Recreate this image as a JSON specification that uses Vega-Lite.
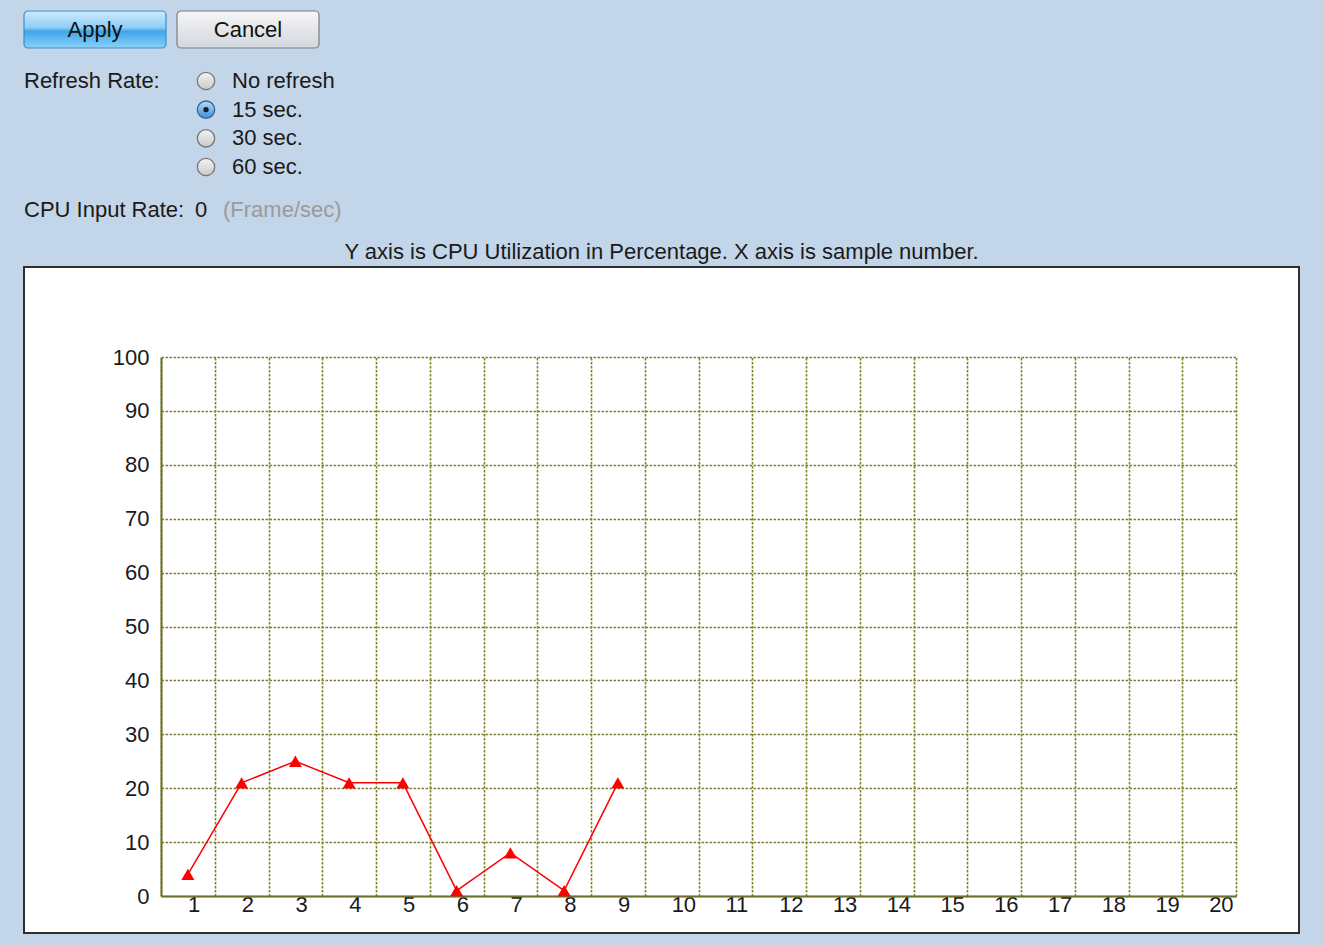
{
  "$schema": "https://vega.github.io/schema/vega-lite/v6.json",
  "background": "#c3d5e8",
  "padding": {"left": 23, "top": 10, "right": 26, "bottom": 14},
  "bounds": "flush",
  "spacing": 0,
  "config": {
    "view": {"stroke": null},
    "font": "Liberation Sans",
    "text": {"font": "Liberation Sans"}
  },
  "vconcat": [
    {
      "width": 295,
      "height": 37,
      "data": {"values": [{"button": "Apply"}, {"button": "Cancel"}]},
      "encoding": {
        "x": {"field": "button", "type": "nominal", "scale": {"domain": ["Apply", "Cancel"], "paddingInner": 0.0719, "paddingOuter": 0}, "axis": null}
      },
      "layer": [
        {
          "transform": [{"filter": "datum.button === 'Apply'"}],
          "mark": {"type": "rect", "cornerRadius": 4, "stroke": "#3a8ed0", "strokeWidth": 1.2,
            "fill": {"gradient": "linear", "x1": 0, "y1": 0, "x2": 0, "y2": 1,
              "stops": [{"offset": 0, "color": "#cfeafc"}, {"offset": 0.45, "color": "#8ecdf6"}, {"offset": 0.55, "color": "#3fa6ea"}, {"offset": 1, "color": "#8ad0f8"}]}}
        },
        {
          "transform": [{"filter": "datum.button === 'Cancel'"}],
          "mark": {"type": "rect", "cornerRadius": 4, "stroke": "#7e7e7e", "strokeWidth": 1.2,
            "fill": {"gradient": "linear", "x1": 0, "y1": 0, "x2": 0, "y2": 1,
              "stops": [{"offset": 0, "color": "#f7f7f7"}, {"offset": 0.5, "color": "#e4e6e9"}, {"offset": 1, "color": "#d3d8de"}]}}
        },
        {
          "mark": {"type": "text", "fontSize": 22, "color": "#111111", "baseline": "middle"},
          "encoding": {"text": {"field": "button"}}
        }
      ]
    },
    {
      "width": 1275,
      "height": 219,
      "data": {"values": [
        {"row": 1, "col": 0, "text": "Refresh Rate:", "kind": "label"},
        {"row": 5, "col": 0, "text": "CPU Input Rate:", "kind": "label"},
        {"row": 1, "col": 1, "text": "No refresh", "kind": "option", "selected": false},
        {"row": 2, "col": 1, "text": "15 sec.", "kind": "option", "selected": true},
        {"row": 3, "col": 1, "text": "30 sec.", "kind": "option", "selected": false},
        {"row": 4, "col": 1, "text": "60 sec.", "kind": "option", "selected": false},
        {"row": 5, "col": 1, "text": "0", "kind": "value"},
        {"row": 5, "col": 1, "text": "(Frame/sec)", "kind": "unit"}
      ]},
      "encoding": {
        "x": {"field": "col", "type": "quantitative", "scale": {"domain": [0, 1], "range": [0, 182], "nice": false, "zero": false}, "axis": null},
        "y": {"field": "row", "type": "quantitative", "scale": {"domain": [1, 4, 5], "range": [33, 119, 162], "nice": false, "zero": false}, "axis": null}
      },
      "layer": [
        {
          "transform": [{"filter": "datum.kind === 'label'"}],
          "mark": {"type": "text", "align": "left", "baseline": "middle", "fontSize": 22, "color": "#1a1a1a"},
          "encoding": {"text": {"field": "text"}}
        },
        {
          "transform": [{"filter": "datum.kind === 'option' && !datum.selected"}],
          "mark": {"type": "point", "shape": "circle", "size": 300, "filled": true, "opacity": 1, "stroke": "#777777", "strokeWidth": 1.3, "strokeOpacity": 1,
            "fill": {"gradient": "linear", "x1": 0, "y1": 0, "x2": 0, "y2": 1,
              "stops": [{"offset": 0, "color": "#f4f4f4"}, {"offset": 1, "color": "#c9c9c9"}]}}
        },
        {
          "transform": [{"filter": "datum.kind === 'option' && datum.selected"}],
          "mark": {"type": "point", "shape": "circle", "size": 300, "filled": true, "opacity": 1, "stroke": "#2f629e", "strokeWidth": 1.3, "strokeOpacity": 1,
            "fill": {"gradient": "linear", "x1": 0, "y1": 0, "x2": 0, "y2": 1,
              "stops": [{"offset": 0, "color": "#b5dbf8"}, {"offset": 1, "color": "#3e8fdb"}]}}
        },
        {
          "transform": [{"filter": "datum.kind === 'option' && datum.selected"}],
          "mark": {"type": "point", "shape": "circle", "size": 28, "filled": true, "opacity": 1, "color": "#15202e"}
        },
        {
          "transform": [{"filter": "datum.kind === 'option'"}],
          "mark": {"type": "text", "align": "left", "baseline": "middle", "dx": 26, "fontSize": 22, "color": "#1a1a1a"},
          "encoding": {"text": {"field": "text"}}
        },
        {
          "transform": [{"filter": "datum.kind === 'value'"}],
          "mark": {"type": "text", "align": "center", "baseline": "middle", "dx": -5, "fontSize": 22, "color": "#1a1a1a"},
          "encoding": {"text": {"field": "text"}}
        },
        {
          "transform": [{"filter": "datum.kind === 'unit'"}],
          "mark": {"type": "text", "align": "left", "baseline": "middle", "dx": 17, "fontSize": 22, "color": "#9a9a9a"},
          "encoding": {"text": {"field": "text"}}
        }
      ]
    },
    {
      "width": 1275,
      "height": 666,
      "view": {"fill": "white", "stroke": "#2e2e2e", "strokeWidth": 2},
      "title": {"text": "Y axis is CPU Utilization in Percentage. X axis is sample number.", "font": "Liberation Sans", "fontSize": 22, "fontWeight": "normal", "color": "#1a1a1a", "anchor": "middle", "baseline": "alphabetic", "offset": -14},
      "data": {"values": [
        {"sample": 1, "cpu": 4},
        {"sample": 2, "cpu": 21},
        {"sample": 3, "cpu": 25},
        {"sample": 4, "cpu": 21},
        {"sample": 5, "cpu": 21},
        {"sample": 6, "cpu": 1},
        {"sample": 7, "cpu": 8},
        {"sample": 8, "cpu": 1},
        {"sample": 9, "cpu": 21}
      ]},
      "encoding": {
        "y": {
          "field": "cpu", "type": "quantitative",
          "scale": {"domain": [0, 100], "range": [629, 90], "nice": false, "zero": false},
          "axis": {
            "orient": "left", "offset": -137, "title": null, "values": [0, 10, 20, 30, 40, 50, 60, 70, 80, 90, 100], "ticks": false,
            "labelPadding": 12, "labelFont": "Liberation Sans", "labelFontSize": 22, "labelColor": "#1a1a1a",
            "domain": true, "domainColor": "#6f6f2e", "domainWidth": 2,
            "grid": true, "gridColor": "#7f7f2f", "gridWidth": 1.6, "gridDash": [2.5, 1.5], "gridOpacity": 1
          }
        }
      },
      "layer": [
        {
          "mark": {"type": "line", "color": "#ff0000", "strokeWidth": 1.5},
          "encoding": {
            "x": {
              "field": "sample", "type": "ordinal",
              "scale": {"domain": [1, 2, 3, 4, 5, 6, 7, 8, 9, 10, 11, 12, 13, 14, 15, 16, 17, 18, 19, 20], "range": [137, 1212], "paddingInner": 0, "paddingOuter": 0},
              "axis": {
                "orient": "top", "offset": 0, "title": null, "tickBand": "extent", "ticks": false, "labels": false, "domain": false,
                "grid": true, "gridColor": "#7f7f2f", "gridWidth": 1.6, "gridDash": [2.5, 1.5], "gridOpacity": 1
              }
            }
          }
        },
        {
          "mark": {"type": "point", "shape": "triangle-up", "filled": true, "size": 170, "color": "#ff0000", "opacity": 1},
          "encoding": {
            "x": {
              "field": "sample", "type": "ordinal",
              "scale": {"domain": [1, 2, 3, 4, 5, 6, 7, 8, 9, 10, 11, 12, 13, 14, 15, 16, 17, 18, 19, 20], "range": [137, 1212], "paddingInner": 0, "paddingOuter": 0},
              "axis": {
                "orient": "bottom", "offset": -37, "title": null, "ticks": false, "grid": false,
                "labelAngle": 0, "labelAlign": "left", "labelBaseline": "top", "labelPadding": -2, "labelOverlap": false,
                "labelFont": "Liberation Sans", "labelFontSize": 22, "labelColor": "#1a1a1a",
                "domain": true, "domainColor": "#6f6f2e", "domainWidth": 2
              }
            }
          }
        }
      ],
      "resolve": {"axis": {"x": "independent"}}
    }
  ]
}
